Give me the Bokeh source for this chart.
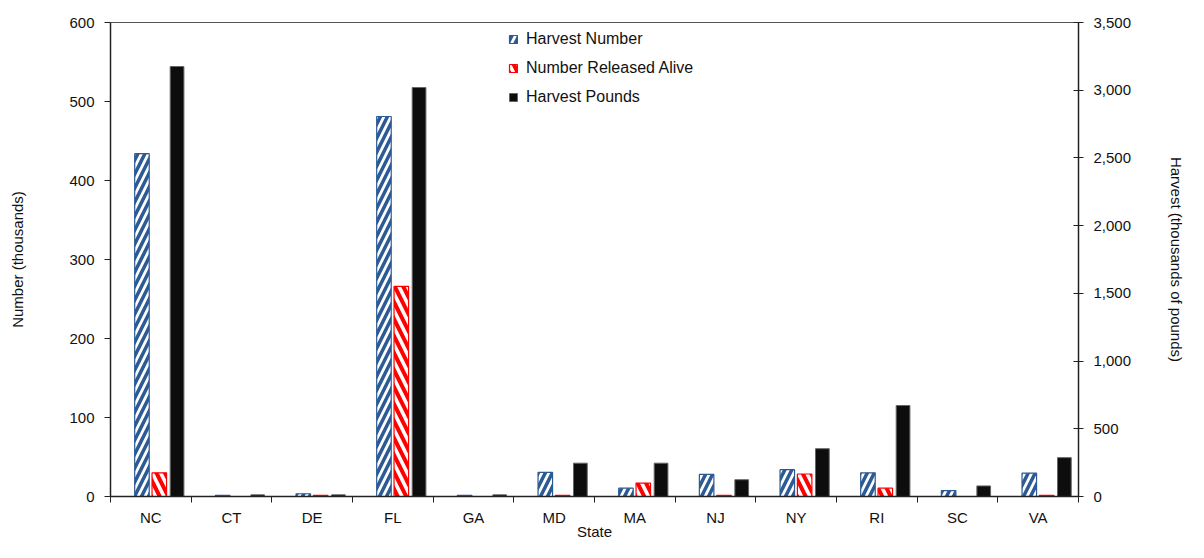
import numpy as np
from bokeh.plotting import figure
from bokeh.models import (ColumnDataSource, Range1d, LinearAxis, FixedTicker,
                          NumeralTickFormatter, Legend, LegendItem)
from bokeh.transform import dodge
from bokeh.embed import file_html
from bokeh.resources import INLINE

states = ["NC", "CT", "DE", "FL", "GA", "MD", "MA", "NJ", "NY", "RI", "SC", "VA"]
harvest_number = [434, 1.5, 3.5, 481, 1.5, 30.5, 10.5, 28, 34, 30, 7.5, 29.5]
released_alive = [30, 0, 1.5, 266, 0, 1.5, 17, 1.5, 28.5, 10.5, 0, 1.5]
harvest_pounds = [3175, 12, 12, 3020, 12, 246, 246, 124, 353, 672, 78, 287]

FONT = "Liberation Sans"
BLUE = "#2C5A95"
RED = "#FF0000"

src = ColumnDataSource(dict(
    x=list(range(len(states))),
    hn=harvest_number, ra=released_alive, hp=harvest_pounds,
))

p = figure(width=1188, height=542, output_backend="svg", toolbar_location=None,
           x_range=Range1d(-0.5, len(states) - 0.5), y_range=Range1d(0, 600),
           min_border_left=110, min_border_right=106, min_border_top=22,
           min_border_bottom=44, x_axis_type=None, y_axis_type=None)
p.extra_y_ranges = {"pounds": Range1d(0, 3500)}
p.xgrid.visible = False
p.ygrid.visible = False
p.outline_line_color = "#555555"
p.outline_line_width = 1
p.background_fill_color = "white"
p.border_fill_color = "white"

W = 0.18
r1 = p.vbar(x=dodge("x", -0.11, range=p.x_range), top="hn", width=W, source=src,
            fill_color="white", line_color=BLUE, line_width=1.2,
            hatch_pattern="/", hatch_color=BLUE, hatch_scale=14, hatch_weight=3.5)
r2 = p.vbar(x=dodge("x", 0.105, range=p.x_range), top="ra", width=W, source=src,
            fill_color="white", line_color=RED, line_width=1.2,
            hatch_pattern="\\", hatch_color=RED, hatch_scale=17, hatch_weight=4)
r3 = p.vbar(x=dodge("x", 0.325, range=p.x_range), top="hp", width=0.17, source=src,
            y_range_name="pounds", fill_color="#0D0D0D", line_color="#666666",
            line_width=1)

# x axis
xaxis = LinearAxis(
    ticker=FixedTicker(ticks=list(range(len(states))),
                       minor_ticks=[i - 0.5 for i in range(len(states) + 1)]),
    major_label_overrides={i: s for i, s in enumerate(states)},
    axis_label="State")
xaxis.major_tick_line_color = None
xaxis.major_tick_in = 0
xaxis.major_tick_out = 6
xaxis.minor_tick_in = 0
xaxis.minor_tick_out = 6
xaxis.minor_tick_line_color = "#222222"
xaxis.axis_line_color = "#222222"
xaxis.axis_line_width = 1.5
xaxis.major_label_standoff = 6
xaxis.axis_label_standoff = -6
p.add_layout(xaxis, "below")

# left axis
laxis = LinearAxis(ticker=FixedTicker(ticks=list(range(0, 601, 100))),
                   axis_label="Number (thousands)")
laxis.major_tick_in = 0
laxis.major_tick_out = 6
laxis.minor_tick_line_color = None
laxis.axis_line_color = "#222222"
laxis.axis_line_width = 1.5
laxis.major_tick_line_color = "#222222"
laxis.major_label_standoff = 10
laxis.axis_label_standoff = 40
p.add_layout(laxis, "left")

# right axis
raxis = LinearAxis(y_range_name="pounds",
                   ticker=FixedTicker(ticks=list(range(0, 3501, 500))),
                   formatter=NumeralTickFormatter(format="0,0"),
                   axis_label="Harvest (thousands of pounds)")
raxis.major_tick_in = 5
raxis.major_tick_out = 5
raxis.minor_tick_line_color = None
raxis.axis_line_color = "#222222"
raxis.axis_line_width = 1.5
raxis.major_tick_line_color = "#222222"
raxis.major_label_standoff = 10
raxis.axis_label_standoff = 34
p.add_layout(raxis, "right")

for ax in (xaxis, laxis, raxis):
    ax.major_label_text_font = FONT
    ax.major_label_text_font_size = "15px"
    ax.major_label_text_color = "#111111"
    ax.axis_label_text_font = FONT
    ax.axis_label_text_font_size = "15px"
    ax.axis_label_text_font_style = "normal"
    ax.axis_label_text_color = "#111111"

legend = Legend(items=[
    LegendItem(label="Harvest Number", renderers=[r1]),
    LegendItem(label="Number Released Alive", renderers=[r2]),
    LegendItem(label="Harvest Pounds", renderers=[r3]),
], location=(398, 389))
legend.border_line_color = None
legend.background_fill_alpha = 0
legend.padding = 0
legend.margin = 0
legend.spacing = 9
legend.label_height = 20
legend.glyph_width = 10
legend.glyph_height = 10
legend.label_standoff = 8
legend.label_text_font = FONT
legend.label_text_font_size = "16px"
legend.label_text_color = "#111111"
p.add_layout(legend, "center")

open("out.html", "w").write(file_html(p, INLINE))
